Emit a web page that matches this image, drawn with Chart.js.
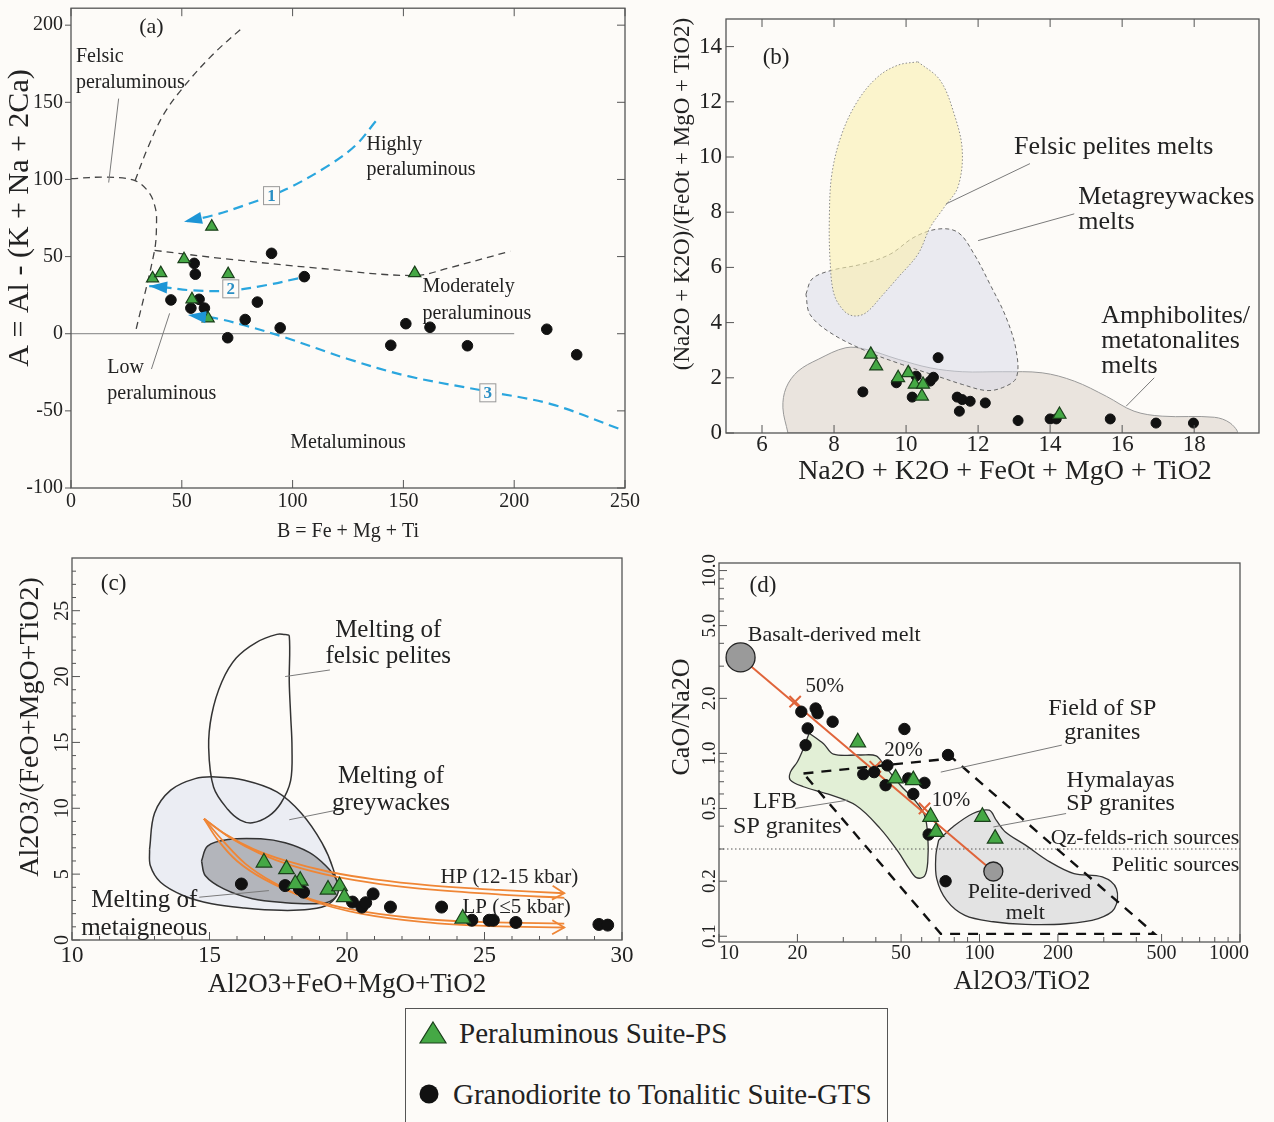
<!DOCTYPE html>
<html>
<head>
<meta charset="utf-8">
<title>Peraluminous and GTS suites - source diagrams</title>
<script src="https://cdn.jsdelivr.net/npm/chart.js@4.4.0/dist/chart.umd.min.js"></script>
<style>
  html, body { margin: 0; padding: 0; background: #fdfbf8; }
  body { width: 1274px; height: 1122px; position: relative; overflow: hidden;
         font-family: "Liberation Serif", "Times New Roman", serif; color: #222; }
  canvas { position: absolute; }
  #legend { position: absolute; left: 405px; top: 1008px; width: 483px; height: 140px;
            border: 1.5px solid #555; box-sizing: border-box; }
  #legend svg, #legend span { position: absolute; }
  #legend span { font-size: 29px; line-height: 32px; white-space: nowrap; }
</style>
</head>
<body>
<canvas id="pa" width="640" height="545" style="left:0;top:0"></canvas>
<canvas id="pb" width="634" height="490" style="left:640px;top:0"></canvas>
<canvas id="pc" width="640" height="460" style="left:0;top:545px"></canvas>
<canvas id="pd" width="634" height="460" style="left:640px;top:545px"></canvas>
<div id="legend">
  <svg width="30" height="26" style="left:12px;top:11px"><polygon points="15,2 28,23 2,23" fill="#45a845" stroke="#1b401b" stroke-width="1.2"/></svg>
  <span style="left:53px;top:8px">Peraluminous Suite-PS</span>
  <svg width="22" height="22" style="left:12px;top:74px"><circle cx="11" cy="11" r="9.5" fill="#111"/></svg>
  <span style="left:47px;top:69px">Granodiorite to Tonalitic Suite-GTS</span>
</div>
<script>
// ---------- (a) A-B diagram
const aTicksX = [0, 50, 100, 150, 200, 250];
const aTicksY = [-100, -50, 0, 50, 100, 150, 200];
const aPS = [[63.5,69.4],[51,48.3],[36.8,35.9],[40.5,39.3],[70.9,38.6],[155.1,39.3],[54.6,22.3],[61.9,9.9]];
const aGTS = [[90.5,52.1],[55.6,45.6],[56.1,38.6],[105.3,37],[45.1,21.9],[57.8,22.3],[54.1,16.6],[60.2,16.6],
              [84.1,20.5],[78.6,9.2],[94.4,3.8],[70.7,-2.6],[151.1,6.5],[162,4.2],[144.3,-7.5],[178.9,-7.8],
              [214.7,2.9],[228.2,-13.6]];
const aFelsicLine = [[0,100.5],[16,101.5],[28.9,99.2],[35.3,91.3],[38.1,81.2],[38.6,72.1],[37.7,54],[28.9,0]];
const aUpperLine = [[28.9,99.2],[34.4,119.6],[41.8,142.2],[51,160.3],[63.8,180.7],[77.7,198.8]];
const aModLine = [[37.7,54],[70,48.5],[109.9,42.7],[155.1,37.7],[170.6,42.7],[198.2,53.5]];
const aZeroLine = [[0,0],[200,0]];
const aArrow1 = [[137.5,137.7],[128.3,121.9],[115.4,108.3],[97,93.6],[78.6,83.4],[63.8,76.6],[51,72.5]];
const aArrow2 = [[102.5,35.9],[87.8,31.4],[71.2,27.9],[54,28.2],[41.8,30.2],[35.3,30.9]];
const aArrow3 = [[247,-61.4],[216.6,-45.6],[189,-37.7],[152.1,-27.5],[124.6,-16.2],[97,-2.6],[78.6,5.3],[65.7,9.9],[52.8,12.1]];

// ---------- (b) melt fields
const bTicksX = [6, 8, 10, 12, 14, 16, 18];
const bTicksY = [0, 2, 4, 6, 8, 10, 12, 14];
const bPS = [[9.02,2.85],[9.17,2.42],[9.78,2.0],[10.06,2.18],[10.24,1.76],[10.47,1.76],[10.44,1.33],[14.26,0.67]];
const bGTS = [[8.8,1.49],[9.73,1.82],[10.28,2.06],[10.67,1.88],[10.76,2.02],[10.89,2.73],[10.17,1.30],[11.42,1.30],
              [11.56,1.21],[11.78,1.15],[12.2,1.09],[11.48,0.79],[13.11,0.45],[14.0,0.51],[14.17,0.51],[15.67,0.51],
              [16.94,0.36],[17.98,0.36]];
const bFelsic = [[10.33,13.45],[10.94,12.79],[11.33,11.58],[11.56,10.24],[11.44,8.91],[11.06,8.18],[10.67,7.45],
                 [10.33,6.48],[9.78,5.64],[9.33,4.97],[8.89,4.36],[8.56,4.24],[8.28,4.42],[8.0,5.03],[7.89,6.24],
                 [7.87,7.82],[7.94,9.39],[8.22,10.85],[8.67,12.06],[9.22,12.91],[9.78,13.33],[10.33,13.45]];
const bGreywacke = [[7.22,5.03],[7.39,5.58],[7.89,5.88],[8.78,6.12],[9.56,6.48],[10.22,7.09],[10.89,7.39],[11.44,7.27],
                    [11.89,6.48],[12.33,5.39],[12.78,4.18],[13.06,2.97],[13.06,2.0],[12.67,1.64],[12.22,1.54],
                    [11.56,1.76],[11.0,2.0],[9.89,2.48],[8.89,2.97],[7.89,3.64],[7.33,4.3],[7.22,5.03]];
const bAmphib = [[6.72,0],[6.58,0.91],[6.67,1.64],[7.0,2.24],[7.56,2.67],[8.33,3.09],[8.89,3.03],[9.78,2.67],
                 [10.67,2.36],[11.56,2.22],[12.67,2.22],[13.78,2.18],[14.67,1.88],[15.56,1.33],[16.33,0.79],
                 [17.11,0.61],[18.56,0.57],[19.0,0.36],[19.17,0],[6.72,0]];

// ---------- (c) Al2O3 ratio diagram
const cTicksX = [10, 15, 20, 25, 30];
const cTicksY = [0, 5, 10, 15, 20, 25];
const cPS = [[16.98,5.88],[17.8,5.38],[18.3,4.5],[18.12,4.25],[19.31,3.83],[19.73,4.08],[19.9,3.25],[24.21,1.63]];
const cGTS = [[16.16,4.25],[17.75,4.13],[18.27,3.88],[18.42,3.63],[20.2,2.88],[20.54,2.5],[20.68,2.83],[20.95,3.5],
              [21.58,2.5],[23.44,2.5],[24.54,1.5],[25.17,1.5],[25.32,1.5],[26.14,1.33],[29.16,1.18],[29.48,1.13]];
const cPelite = [[17.75,23.2],[17.9,23.1],[17.9,19.6],[17.95,17.1],[18.0,14.6],[17.95,12.1],[17.6,10.4],[17.15,9.4],
                 [16.56,8.9],[16.12,9.1],[15.67,9.9],[15.15,11.6],[14.97,14.6],[15.08,17.1],[15.45,19.6],
                 [15.97,21.4],[16.71,22.6],[17.45,23.2],[17.75,23.2]];
const cGreywacke = [[12.82,6.88],[13.0,9.63],[13.59,11.38],[14.48,12.25],[15.23,12.38],[16.27,12.13],[17.45,11.25],
                    [18.34,9.63],[19.09,7.38],[19.5,5.38],[19.65,3.63],[19.31,2.68],[18.64,2.33],[17.6,2.25],
                    [16.27,2.43],[15.08,2.75],[14.04,3.38],[13.22,4.38],[12.85,5.63],[12.82,6.88]];
const cMeta = [[14.71,6.0],[14.93,7.13],[15.67,7.63],[16.86,7.68],[17.75,7.38],[18.64,6.63],[19.23,5.63],[19.6,4.63],
               [19.68,3.63],[19.38,2.93],[18.79,2.75],[17.75,2.83],[16.56,3.13],[15.52,3.88],[14.85,4.88],[14.71,6.0]];
const cHPUpper = [[14.8,9.2],[15.6,8.0],[16.6,6.9],[17.8,6.0],[19.3,5.2],[21.0,4.6],[23.0,4.15],[25.5,3.8],[27.9,3.55]];
const cHPLower = [[14.8,9.2],[15.8,7.7],[16.8,6.6],[18.0,5.65],[19.5,4.85],[21.2,4.25],[23.2,3.8],[25.6,3.45],[27.9,3.2]];
const cLPUpper = [[14.8,9.2],[15.3,7.6],[16.0,6.0],[17.0,4.6],[18.4,3.3],[20.2,2.3],[22.5,1.65],[25.0,1.35],[27.9,1.25]];
const cLPLower = [[14.8,9.2],[15.5,7.5],[16.3,5.8],[17.3,4.4],[18.7,3.0],[20.5,2.0],[22.8,1.35],[25.2,1.05],[27.9,0.95]];

// ---------- (d) CaO/Na2O vs Al2O3/TiO2 (log-log)
const dTicksX = [10, 20, 50, 100, 200, 500, 1000];
const dTicksY = [0.1, 0.2, 0.5, 1, 2, 5, 10];
const dMinorX = [30, 40, 60, 70, 80, 90, 300, 400, 600, 700, 800, 900];
const dMinorY = [0.3, 0.4, 0.6, 0.7, 0.8, 0.9, 3, 4, 6, 7, 8, 9];
const dPS = [[34.1,1.15],[47.6,0.73],[55.7,0.714],[64.9,0.45],[68.1,0.372],[102.6,0.45],[114.8,0.342]];
const dGTS = [[20.7,1.69],[23.5,1.76],[23.9,1.66],[21.9,1.37],[27.3,1.49],[21.5,1.11],[51.5,1.36],[75.7,0.98],
              [35.8,0.77],[39.4,0.79],[44.3,0.86],[43.6,0.67],[53.3,0.73],[61.5,0.69],[55.7,0.60],[63.8,0.36],[74.1,0.20]];
const dBasalt = [[12.1,3.35]];
const dPelite = [[113,0.226]];
const dMix = [[12.1,3.35],[113,0.226]];
const dMixMarks = [[19.6,1.92],[39.8,0.845],[61.5,0.5]];
const dSourceLine = [[10,0.3],[1000,0.3]];
const dSPField = [[21.1,0.777],[79,0.939],[440,0.112],[470,0.103],[71,0.103],[21.1,0.777]];
const dLFB = [[22.2,1.29],[25.2,1.13],[27.5,0.99],[34.8,0.98],[40.1,0.97],[43.1,0.86],[49.7,0.67],[57.3,0.54],
              [61.5,0.46],[63.3,0.357],[63.3,0.255],[61.5,0.213],[57.3,0.209],[53.7,0.234],[48.8,0.289],[41.6,0.388],
              [33.5,0.52],[26.1,0.60],[21.1,0.657],[18.8,0.714],[18.8,0.79],[20.0,0.9],[21.1,1.065],[21.9,1.23],[22.2,1.29]];
const dHymalaya = [[69.7,0.335],[79.0,0.396],[94.4,0.469],[108.9,0.489],[116.1,0.43],[125.7,0.372],[150.2,0.315],
                   [186.1,0.255],[230.6,0.22],[296,0.211],[335.4,0.182],[329.6,0.1415],[285.7,0.125],[214.9,0.117],
                   [150.2,0.116],[112.9,0.12],[87.9,0.13],[74.8,0.157],[68.5,0.2066],[68.0,0.277],[69.7,0.335]];

// ---------- helpers
const SERIF = '"Liberation Serif", "Times New Roman", serif';
const BLUE = '#2aa6de', ORANGE = '#ef8636', RED = '#e0643a';
Chart.defaults.font.family = SERIF;
Chart.defaults.color = '#222';

const xy = arr => arr.map(p => ({ x: p[0], y: p[1] }));

function markers(data, kind, r, order) {
  const tri = kind === 'tri';
  return { data: xy(data), pointStyle: tri ? 'triangle' : 'circle', pointRadius: r,
    backgroundColor: tri ? '#45a845' : '#111', borderColor: tri ? '#1b401b' : '#111',
    borderWidth: tri ? 1.2 : 1, order: order };
}

function path(data, o) {
  return { data: xy(data), showLine: true, pointRadius: 0, borderColor: o.color || '#333',
    borderWidth: o.width || 1.2, borderDash: o.dash || [], tension: o.tension === undefined ? 0.35 : o.tension,
    fill: o.fill ? 'shape' : false, backgroundColor: o.fill || 'transparent', order: o.order || 5 };
}

function axis(min, max, ticks, o) {
  return {
    type: o.log ? 'logarithmic' : 'linear', min: min, max: max,
    grid: { display: false, drawTicks: false, tickLength: 0 }, border: { display: false },
    afterBuildTicks: s => { s.ticks = ticks.map(v => ({ value: v })); },
    afterFit: s => {
      if (s.isHorizontal()) s.height = o.fit; else s.width = o.fit;
      s.paddingLeft = 0; s.paddingRight = 0; s.paddingTop = 0; s.paddingBottom = 0;
    },
    ticks: { display: o.show !== false, autoSkip: false, maxRotation: 0, minRotation: 0,
      padding: o.pad || 0, color: '#222', font: { size: o.size || 20 },
      callback: v => (o.fmt ? o.fmt(v) : String(v)) }
  };
}

function put(ctx, t, x, y, size, align, rot, color, weight) {
  ctx.save();
  ctx.translate(x, y);
  if (rot) ctx.rotate(rot);
  ctx.font = (weight || 'normal') + ' ' + size + 'px ' + SERIF;
  ctx.fillStyle = color || '#222';
  ctx.textAlign = align || 'center';
  ctx.textBaseline = 'middle';
  ctx.fillText(t, 0, 0);
  ctx.restore();
}

// frame, inner ticks, leaders, arrow heads, labels
function decor(cfg) {
  return {
    id: 'decor',
    afterDatasetsDraw(chart) {
      const ctx = chart.ctx, a = chart.chartArea;
      const X = v => chart.scales.x.getPixelForValue(v);
      const Y = v => chart.scales.y.getPixelForValue(v);
      ctx.save();
      ctx.strokeStyle = '#555';
      (cfg.marks || []).forEach(m => {
        ctx.lineWidth = 1;
        m.vals.forEach(v => {
          ctx.beginPath();
          if (m.side === 'bottom' || m.side === 'top') {
            const p = X(v), e = m.side === 'bottom' ? a.bottom : a.top, s = m.side === 'bottom' ? -1 : 1;
            ctx.moveTo(p, e); ctx.lineTo(p, e + s * m.len);
          } else {
            const p = Y(v), e = m.side === 'left' ? a.left : a.right, s = m.side === 'left' ? 1 : -1;
            ctx.moveTo(e, p); ctx.lineTo(e + s * m.len, p);
          }
          ctx.stroke();
        });
      });
      ctx.lineWidth = 1.3;
      ctx.strokeRect(a.left, a.top, a.right - a.left, a.bottom - a.top);

      ctx.strokeStyle = '#7a7a7a'; ctx.lineWidth = 1;
      (cfg.leaders || []).forEach(l => {
        ctx.beginPath(); ctx.moveTo(X(l[0]), Y(l[1])); ctx.lineTo(X(l[2]), Y(l[3])); ctx.stroke();
      });

      (cfg.heads || []).forEach(h => {
        const n = h.pts.length;
        const x1 = X(h.pts[n - 1][0]), y1 = Y(h.pts[n - 1][1]);
        const x0 = X(h.pts[n - 2][0]), y0 = Y(h.pts[n - 2][1]);
        const ang = Math.atan2(y1 - y0, x1 - x0);
        const bx = x1 - Math.cos(ang) * h.len, by = y1 - Math.sin(ang) * h.len;
        const nx = -Math.sin(ang) * h.w / 2, ny = Math.cos(ang) * h.w / 2;
        ctx.beginPath();
        ctx.moveTo(bx + nx, by + ny); ctx.lineTo(x1, y1); ctx.lineTo(bx - nx, by - ny);
        if (h.open) { ctx.strokeStyle = h.color; ctx.lineWidth = 1.8; ctx.stroke(); }
        else { ctx.closePath(); ctx.fillStyle = h.color; ctx.fill(); }
      });

      (cfg.boxes || []).forEach(b => {
        const x = X(b[1]), y = Y(b[2]);
        ctx.fillStyle = '#fdfbf8'; ctx.strokeStyle = '#999'; ctx.lineWidth = 1;
        ctx.fillRect(x - 8, y - 9, 16, 18); ctx.strokeRect(x - 8, y - 9, 16, 18);
        put(ctx, b[0], x, y + 1, 17, 'center', 0, '#2b8fc4', 'bold');
      });

      (cfg.texts || []).forEach(t => put(ctx, t[0], X(t[1]), Y(t[2]), t[3], t[4] || 'center'));

      if (cfg.yLabels) {
        const L = cfg.yLabels;
        L.vals.forEach(v => put(ctx, L.fmt(v), a.left - L.dx, Y(v), L.size, 'center', -Math.PI / 2));
      }
      if (cfg.xLabels) {
        const L = cfg.xLabels;
        L.vals.forEach(v => put(ctx, String(v), X(v) + (L.shift[v] || 0), a.bottom + L.dy, L.size));
      }
      (cfg.titles || []).forEach(t => put(ctx, t[0], t[1], t[2], t[3], 'center', t[4] ? -Math.PI / 2 : 0));
      ctx.restore();
    }
  };
}

function panel(id, datasets, scales, pad, cfg) {
  return new Chart(document.getElementById(id), {
    type: 'scatter',
    data: { datasets: datasets },
    options: {
      responsive: false, animation: false, devicePixelRatio: 1, events: [],
      layout: { padding: pad },
      scales: scales,
      plugins: { legend: { display: false }, tooltip: { enabled: false } }
    },
    plugins: [decor(cfg)]
  });
}

// ---------- panel (a)
panel('pa', [
  markers(aPS, 'tri', 7, 0),
  markers(aGTS, 'dot', 5.3, 1),
  path(aArrow1, { color: BLUE, dash: [10, 6], width: 2.2, order: 2 }),
  path(aArrow2, { color: BLUE, dash: [10, 6], width: 2.2, order: 2 }),
  path(aArrow3, { color: BLUE, dash: [10, 6], width: 2.2, order: 2 }),
  path(aFelsicLine, { color: '#444', dash: [7, 5], width: 1.3, order: 3 }),
  path(aUpperLine, { color: '#444', dash: [7, 5], width: 1.3, order: 3 }),
  path(aModLine, { color: '#444', dash: [7, 5], width: 1.3, order: 3 }),
  path(aZeroLine, { color: '#999', width: 1.3, tension: 0, order: 4 })
], {
  x: axis(0, 250, aTicksX, { fit: 57, pad: 2, size: 20 }),
  y: axis(-100, 211, aTicksY, { fit: 71, pad: 8, size: 20 })
}, { left: 0, top: 8, right: 15, bottom: 0 }, {
  marks: [
    { side: 'bottom', vals: aTicksX, len: 8 }, { side: 'top', vals: aTicksX, len: 8 },
    { side: 'left', vals: aTicksY, len: -6 }, { side: 'right', vals: aTicksY, len: 8 }
  ],
  leaders: [[21.5, 152.4, 17, 98], [44.5, 13.2, 36.3, -22.9]],
  heads: [
    { pts: aArrow1, color: '#1d95d6', len: 18, w: 12 },
    { pts: aArrow2, color: '#1d95d6', len: 18, w: 12 },
    { pts: aArrow3, color: '#1d95d6', len: 18, w: 12 }
  ],
  boxes: [['1', 90.5, 89.5], ['2', 72.1, 29.1], ['3', 188.1, -38.3]],
  texts: [
    ['(a)', 36.3, 198.8, 22],
    ['Felsic', 2.2, 179.5, 20, 'left'], ['peraluminous', 2.2, 162.6, 20, 'left'],
    ['Highly', 133.4, 122.3, 20, 'left'], ['peraluminous', 133.4, 106, 20, 'left'],
    ['Moderately', 158.6, 30.2, 20, 'left'], ['peraluminous', 158.6, 13.2, 20, 'left'],
    ['Low', 16.4, -21.8, 20, 'left'], ['peraluminous', 16.4, -38.8, 20, 'left'],
    ['Metaluminous', 125, -70.5, 20]
  ],
  titles: [['B = Fe + Mg + Ti', 348, 532, 20], ['A = Al - (K + Na + 2Ca)', 20, 218, 30, true]]
});

// ---------- panel (b)
panel('pb', [
  markers(bPS, 'tri', 7.5, 0),
  markers(bGTS, 'dot', 5, 1),
  path(bFelsic, { color: '#8a8a8a', dash: [1.5, 2], width: 1, fill: 'rgba(250,240,175,0.6)', order: 7 }),
  path(bGreywacke, { color: '#666', dash: [4, 3], width: 1, fill: 'rgba(215,218,232,0.5)', order: 8 }),
  path(bAmphib, { color: '#999', width: 1, fill: 'rgba(215,205,195,0.5)', order: 9 })
], {
  x: axis(5, 19.8, bTicksX, { fit: 57, pad: -2, size: 23 }),
  y: axis(0, 15, bTicksY, { fit: 86, pad: 4, size: 23 })
}, { left: 0, top: 19, right: 15, bottom: 0 }, {
  marks: [
    { side: 'bottom', vals: bTicksX, len: 8 }, { side: 'top', vals: bTicksX, len: 8 },
    { side: 'left', vals: bTicksY, len: 8 }
  ],
  leaders: [[13.44, 9.76, 11.11, 8.3], [14.67, 7.94, 12.0, 6.97], [16.89, 2.0, 16.11, 0.97]],
  texts: [
    ['(b)', 6.39, 13.6, 23],
    ['Felsic pelites melts', 13.0, 10.36, 26, 'left'],
    ['Metagreywackes', 14.78, 8.55, 26, 'left'], ['melts', 14.78, 7.64, 26, 'left'],
    ['Amphibolites/', 15.42, 4.24, 26, 'left'], ['metatonalites', 15.42, 3.33, 26, 'left'],
    ['melts', 15.42, 2.42, 26, 'left']
  ],
  titles: [['Na2O + K2O + FeOt + MgO + TiO2', 365, 472, 28], ['(Na2O + K2O)/(FeOt + MgO + TiO2)', 43, 194, 23, true]]
});

// ---------- panel (c)
panel('pc', [
  markers(cPS, 'tri', 9, 0),
  markers(cGTS, 'dot', 6, 1),
  path(cHPUpper, { color: ORANGE, width: 1.8, order: 2 }),
  path(cHPLower, { color: ORANGE, width: 1.8, order: 2 }),
  path(cLPUpper, { color: ORANGE, width: 1.8, order: 2 }),
  path(cLPLower, { color: ORANGE, width: 1.8, order: 2 }),
  path(cPelite, { color: '#333', width: 1.5, order: 6 }),
  path(cMeta, { color: '#333', width: 1.5, fill: '#b3b5bb', order: 7 }),
  path(cGreywacke, { color: '#333', width: 1.5, fill: 'rgba(232,234,242,0.85)', order: 8 })
], {
  x: axis(10, 30, cTicksX, { fit: 65, pad: 2, size: 23 }),
  y: axis(0, 29, cTicksY, { fit: 72, show: false })
}, { left: 0, top: 13, right: 18, bottom: 0 }, {
  marks: [
    { side: 'bottom', vals: cTicksX, len: 8 },
    { side: 'bottom', vals: [11,12,13,14,16,17,18,19,21,22,23,24,26,27,28,29], len: 4 },
    { side: 'left', vals: cTicksY, len: 8 },
    { side: 'left', vals: [1,2,3,4,6,7,8,9,11,12,13,14,16,17,18,19,21,22,23,24,26,27,28], len: 4 }
  ],
  leaders: [[19.38, 20.5, 17.75, 20.0], [19.68, 9.88, 17.9, 9.13], [14.63, 3.25, 17.16, 3.75]],
  heads: [
    { pts: cHPUpper, color: ORANGE, len: 12, w: 14, open: true },
    { pts: cLPLower, color: ORANGE, len: 12, w: 14, open: true }
  ],
  texts: [
    ['(c)', 11.51, 27.0, 23],
    ['Melting of', 21.5, 23.5, 25], ['felsic pelites', 21.5, 21.5, 25],
    ['Melting of', 21.6, 12.4, 25], ['greywackes', 21.6, 10.4, 25],
    ['Melting of', 12.63, 3.0, 25], ['metaigneous', 12.63, 0.88, 25],
    ['HP (12-15 kbar)', 23.4, 4.75, 21, 'left'], ['LP (\u22645 kbar)', 24.2, 2.5, 21, 'left']
  ],
  yLabels: { vals: cTicksY, fmt: v => String(v), dx: 9, size: 20 },
  titles: [['Al2O3+FeO+MgO+TiO2', 347, 440, 27], ['Al2O3/(FeO+MgO+TiO2)', 31, 182, 28, true]]
});

// ---------- panel (d)
panel('pd', [
  markers(dPS, 'tri', 9, 0),
  markers(dGTS, 'dot', 5.7, 1),
  { data: xy(dBasalt), pointRadius: 14.5, backgroundColor: '#9a9a9a', borderColor: '#222', borderWidth: 1.3, order: 1 },
  { data: xy(dPelite), pointRadius: 9.5, backgroundColor: '#9a9a9a', borderColor: '#222', borderWidth: 1.3, order: 1 },
  { data: xy(dMixMarks), pointStyle: 'crossRot', pointRadius: 8, borderColor: RED, borderWidth: 2, order: 2 },
  path(dMix, { color: RED, width: 2, tension: 0, order: 3 }),
  path(dSPField, { color: '#111', width: 2.4, dash: [10, 8], tension: 0, order: 4 }),
  path(dSourceLine, { color: '#555', width: 1, dash: [1.5, 2.5], tension: 0, order: 5 }),
  path(dHymalaya, { color: '#333', width: 1.3, fill: '#e3e3e3', order: 6 }),
  path(dLFB, { color: '#333', width: 1.3, fill: '#e2efd6', order: 7 })
], {
  x: axis(10, 1000, dTicksX, { log: true, fit: 63, show: false }),
  y: axis(0.093, 11, dTicksY, { log: true, fit: 79, show: false })
}, { left: 0, top: 18, right: 34, bottom: 0 }, {
  marks: [
    { side: 'bottom', vals: dTicksX, len: 8 }, { side: 'bottom', vals: dMinorX, len: 5 },
    { side: 'left', vals: dTicksY, len: 8 }, { side: 'left', vals: dMinorY, len: 5 }
  ],
  leaders: [[207, 1.11, 71, 0.79], [215, 0.469, 113, 0.396], [19.6, 0.50, 31.2, 0.555]],
  texts: [
    ['(d)', 14.75, 8.2, 23],
    ['Basalt-derived melt', 12.9, 4.45, 22, 'left'],
    ['50%', 21.5, 2.32, 21, 'left'], ['20%', 43.1, 1.04, 21, 'left'], ['10%', 65.6, 0.555, 21, 'left'],
    ['Field of SP', 296, 1.75, 24], ['granites', 296, 1.29, 24],
    ['Hymalayas', 348, 0.705, 24], ['SP granites', 348, 0.532, 24],
    ['Qz-felds-rich sources', 995, 0.342, 22, 'right'], ['Pelitic sources', 995, 0.244, 22, 'right'],
    ['LFB', 16.4, 0.544, 24], ['SP granites', 18.3, 0.397, 24],
    ['Pelite-derived', 155.6, 0.175, 22], ['melt', 150, 0.133, 22]
  ],
  yLabels: { vals: dTicksY, fmt: v => v.toFixed(1), dx: 9, size: 19 },
  xLabels: { vals: dTicksX, dy: 12, size: 20, shift: { 10: 10, 1000: -11 } },
  titles: [['Al2O3/TiO2', 382, 437, 27], ['CaO/Na2O', 42, 172, 26, true]]
});
</script>
</body>
</html>
